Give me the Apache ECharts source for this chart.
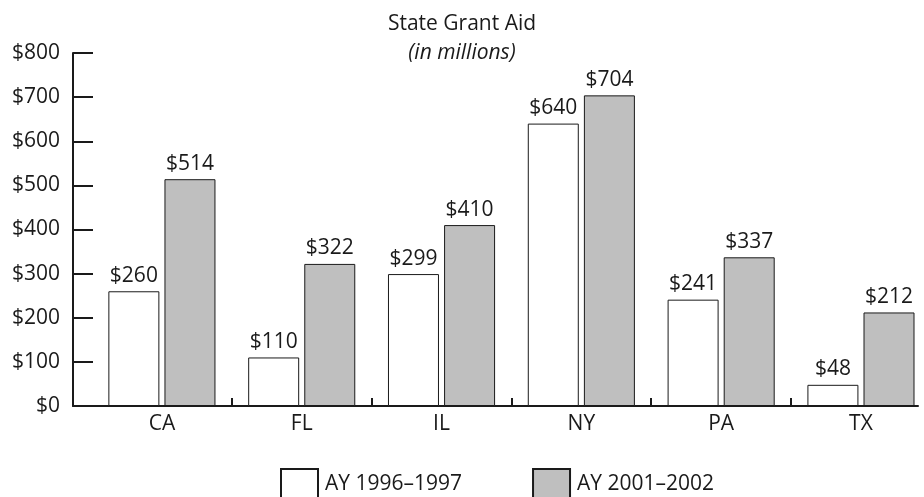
<!DOCTYPE html>
<html>
<head>
<meta charset="utf-8">
<script src="https://cdn.jsdelivr.net/npm/echarts@6/dist/echarts.min.js"></script>
<style>
  html, body { margin: 0; padding: 0; background: #fff; }
  #chart { width: 924px; height: 497px; }
</style>
</head>
<body>
<div id="chart"></div>
<script>
// data
var states = ["CA", "FL", "IL", "NY", "PA", "TX"];
var ay1996 = [260, 110, 299, 640, 241, 48];
var ay2001 = [514, 322, 410, 704, 337, 212];
var seriesNames = ["AY 1996\u20131997", "AY 2001\u20132002"];

var font = "Open Sans";
var ink = "#1a1a1a";

function money(v) { return "$" + v; }

// x is a value axis so the group bands can start a bit to the right of the y axis
var idx = states.map(function (s, i) { return i; });
var between = idx.slice(1).map(function (i) { return i - 0.5; });
function pairs(arr) { return arr.map(function (v, i) { return [i, v]; }); }

var chart = echarts.init(document.getElementById("chart"));
chart.setOption({
  animation: false,
  textStyle: { fontFamily: font },
  title: {
    text: "State Grant Aid",
    subtext: "(in millions)",
    left: "center",
    top: 6,
    itemGap: 3,
    textStyle: { fontFamily: font, fontSize: 21, fontWeight: "normal", color: ink, lineHeight: 26 },
    subtextStyle: { fontFamily: font, fontSize: 21, fontStyle: "italic", color: ink, lineHeight: 26 }
  },
  legend: {
    data: seriesNames,
    left: 275,
    top: 463,
    icon: "rect",
    itemWidth: 37,
    itemHeight: 30,
    itemGap: 70,
    textStyle: { fontFamily: font, fontSize: 21, color: ink, padding: [0, 0, 0, 2] }
  },
  grid: { left: 73, right: 6, top: 53, bottom: 91 },
  xAxis: {
    type: "value",
    min: -0.636,
    max: 5.408,
    splitLine: { show: false },
    axisLine: { show: true, onZero: false, lineStyle: { color: ink, width: 2 } },
    axisTick: {
      show: true,
      inside: true,
      length: 8,
      customValues: between,
      lineStyle: { color: ink, width: 2 }
    },
    axisLabel: {
      fontFamily: font, fontSize: 21, color: ink, margin: 8,
      customValues: idx,
      formatter: function (v) { return states[Math.round(v)]; }
    }
  },
  yAxis: {
    type: "value",
    min: 0,
    max: 800,
    interval: 100,
    axisLine: { show: true, onZero: false, lineStyle: { color: ink, width: 2 } },
    axisTick: { show: true, inside: true, length: 20, lineStyle: { color: ink, width: 2 } },
    axisLabel: { fontFamily: font, fontSize: 21, color: ink, margin: 13, formatter: money },
    splitLine: { show: false }
  },
  series: [
    {
      name: seriesNames[0],
      type: "bar",
      data: pairs(ay1996),
      barWidth: 51,
      barGap: "10%",
      itemStyle: { color: "#ffffff", borderColor: ink, borderWidth: 1 },
      label: { show: true, position: "top", distance: 5, fontFamily: font, fontSize: 21, color: ink, formatter: function (p) { return money(p.value[1]); } }
    },
    {
      name: seriesNames[1],
      type: "bar",
      data: pairs(ay2001),
      barWidth: 51,
      barGap: "10%",
      itemStyle: { color: "#bfbfbf", borderColor: ink, borderWidth: 1 },
      label: { show: true, position: "top", distance: 5, fontFamily: font, fontSize: 21, color: ink, formatter: function (p) { return money(p.value[1]); } }
    }
  ]
});
</script>
</body>
</html>
